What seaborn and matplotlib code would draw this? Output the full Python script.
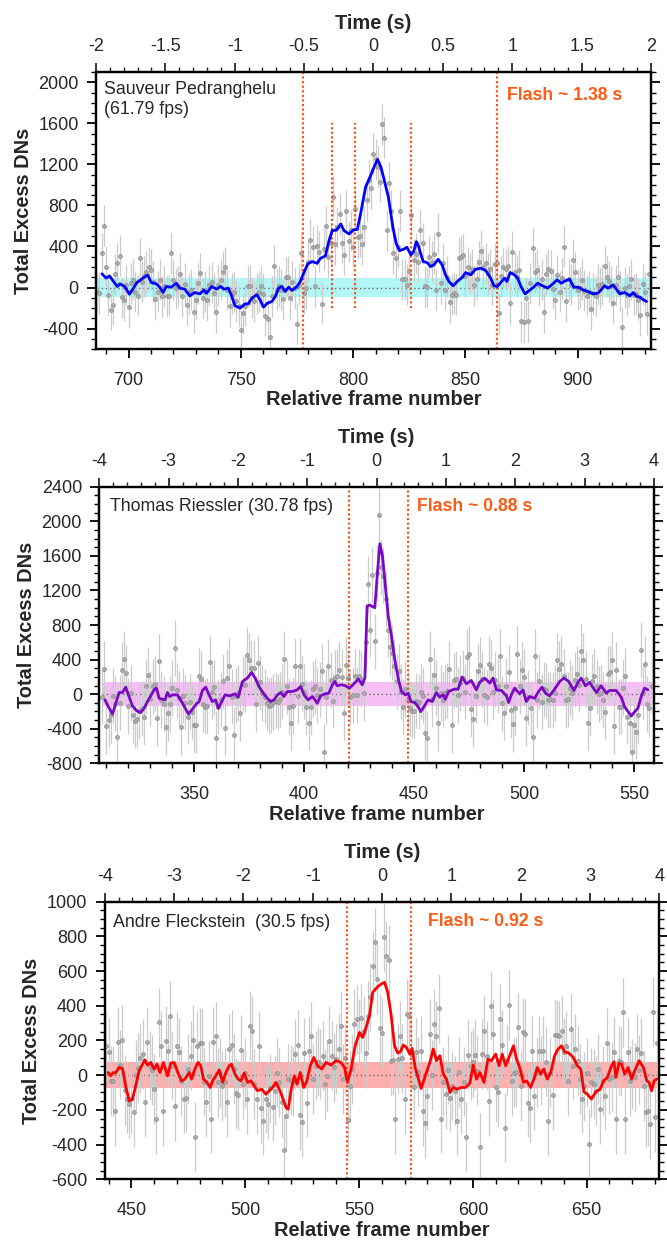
"""Three-panel flash light curves: total excess DNs vs frame number."""

import matplotlib

matplotlib.use("Agg")
import matplotlib.pyplot as plt  # noqa: E402
import numpy as np  # noqa: E402
import seaborn as sns  # noqa: E402
from matplotlib.ticker import MultipleLocator  # noqa: E402

# ---------------------------------------------------------------- panel 1
p1_name = "Sauveur Pedranghelu\n(61.79 fps)"
p1_flash = "Flash ~ 1.38 s"
p1_first_frame = 686
p1_points = [
    -40, -55, 334, 600, 204, -71, -217, -168, 130, 236,
    308, -94, -126, 20, -191, 40, 75, -39, -81, 285,
    58, 110, 155, 198, 172, 58, -113, -39, 75, -87,
    10, -87, -81, 334, 75, -6, 10, 133, -87, 36,
    -168, -55, -23, -243, -120, 40, 139, -104, -39, -126,
    20, 49, -55, -243, 23, 75, 155, 198, -23, -185,
    -60, -39, -136, -185, -418, -250, -178, 10, 16, -100,
    -136, -62, -39, 10, -62, -275, -308, -483, -87, 210,
    -23, 10, -23, -113, 100, 107, -104, 58, -6, -353,
    26, 340, -55, -6, 250, 463, 399, 10, 405, 350,
    -159, 373, 595, 300, 431, 885, 420, 587, 716, 438,
    318, 748, 450, 560, 392, 761, 489, 502, 420, 593,
    850, 1046, 965, 1306, 1250, 1176, 1030, 1590, 1460, 560,
    1020, 750, 334, 290, 392, 750, 80, 82, 27, 160,
    705, 268, 327, 250, 560, 430, 10, 3, 300, 253,
    330, -23, 525, 40, 237, -20, 107, -146, -70, -55,
    -71, 285, 302, 318, 110, 199, 140, 180, 20, 82,
    250, 360, 200, 237, 140, 178, 27, 230, 237, -253,
    110, 199, 180, 205, -152, 350, 150, 107, 170, -328,
    -340, -100, -328, 40, 382, 150, 172, 20, 80, -240,
    130, 178, 165, -10, -120, 120, -40, 90, 398, -136,
    80, 27, 270, 150, -23, 0, 75, -30, -80, -40,
    -214, -55, -80, 27, -10, 30, 205, 107, 60, 10,
    -152, 20, 107, -40, -386, 0, -71, 10, 82, -71,
    -60, -120, -272, 30, -45, -262, 133,
]
p1_err = 200
p1_line_frames = [
    688.2, 690, 691.5, 693, 695, 696.2, 698.2, 700.4, 702.2, 703.7,
    705, 706.4, 707.9, 708.6, 710.1, 712.4, 713.9, 715.4, 716.8, 719,
    721.3, 722.8, 725, 727.3, 729.5, 731.8, 733.6, 734.8, 737, 739.2,
    741, 742.5, 744.5, 746, 747.4, 749.7, 751.9, 753.4, 754.9, 757.1,
    758.6, 760.1, 761.9, 763.9, 765.4, 766.8, 768.3, 769.8, 771.3, 772.8,
    775, 776.5, 778, 779.8, 781.8, 784, 785.5, 787.7, 789.2, 790.7,
    792.7, 794.5, 796, 798.2, 800.1, 801.9, 803.4, 805.6, 807.6, 809.4,
    810.9, 812.4, 813.9, 815.7, 817.7, 819.2, 820.7, 822.5, 824, 825.8,
    827, 828.2, 829.2, 831.2, 833, 834.5, 836, 837.9, 839.7, 841.2,
    842.7, 844.6, 846.4, 848.7, 850.1, 852.4, 854.6, 856.9, 859.1, 861.3,
    862.8, 864.3, 866.1, 867.6, 868.5, 870, 871.8, 873.3, 874.8, 876.6,
    878.5, 880.4, 882.2, 884.5, 886.7, 889, 890.9, 892.7, 894.9, 896.4,
    898.4, 900.4, 902.4, 904.6, 906.9, 909.1, 912.1, 913.6, 915.8, 918.8,
    921, 923.3, 924.8, 926.3, 927.8, 929.3, 930.7,
]
p1_line_vals = [
    133, 91, 113, 68, 10, 36, 10, -65, -6, 49,
    68, 91, 113, 120, 49, 36, 3, -49, 10, 3,
    42, -6, -16, -81, -49, -62, -23, -55, 10, -16,
    10, -16, -6, -87, -178, -201, -159, -159, -104, -71,
    -120, -191, -152, -136, -87, -6, 10, -39, 3, -29,
    10, 58, 139, 230, 253, 236, 285, 308, 447, 554,
    560, 619, 554, 522, 560, 567, 723, 981, 1079, 1176,
    1247, 1176, 1046, 884, 592, 430, 359, 373, 392, 318,
    350, 447, 399, 253, 243, 204, 220, 275, 220, 123,
    58, 16, 58, 100, 146, 123, 178, 188, 165, 91,
    16, 10, 58, 91, 58, 146, 123, 91, 10, -62,
    -29, 3, 42, 16, -6, 36, 75, 42, 68, 81,
    3, 3, -23, -39, -62, -55, 16, -6, 26, -62,
    -49, -81, -49, -87, -94, -120, -136,
]
p1_flash_lines = [777.6, 864.2]
p1_sub_lines = [790.7, 800.7, 825.8]
p1_sub_span = [-200, 1600]
p1_band = 95

# ---------------------------------------------------------------- panel 2
p2_name = "Thomas Riessler (30.78 fps)"
p2_flash = "Flash ~ 0.88 s"
p2_first_frame = 308
p2_points = [
    -27, 291, -369, -299, -241, -19, -110, -493, -97, 283,
    407, 244, -136, 12, -241, -307, -291, -200, -163, -268,
    89, 225, -50, 89, 120, -279, 380, -66, -110, -384,
    -221, -113, 70, 535, 43, -47, -384, -19, -97, -260,
    -85, -202, -357, -357, 213, 175, -113, -144, -136, 369,
    31, 81, -512, -144, -58, 147, -396, 186, 330, -27,
    -473, -19, 12, -221, 120, 109, 458, 392, 303, 303,
    -113, 361, 136, 12, -27, -105, -136, -124, -90, -74,
    -85, -58, 31, 407, 89, -144, -330, -136, 330, -19,
    330, 120, 31, -151, -330, -151, 60, 89, -8, 58,
    264, -667, -27, 322, 167, -74, 186, 206, 283, 198,
    -213, 341, 186, -27, -8, 206, -8, 206, 175, 12,
    600, 1273, 748, 1377, 613, 1400, 2076, 1467, 1370, 1100,
    748, 547, 480, 322, 150, 264, 31, -144, 60, -66,
    -163, -190, -190, -74, -85, 30, -19, -446, -512, 407,
    -58, 225, 70, -338, 12, -66, 19, 40, 291, -357,
    159, 175, -8, 128, 186, 31, 430, 470, -175, -291,
    -19, 264, 341, 175, -8, -35, 353, 303, 31, 167,
    100, 438, -105, -213, 97, 252, -183, -345, -163, 470,
    89, 283, 198, -279, -35, -163, -493, 438, -66, 147,
    -85, 58, 43, -66, -58, -66, 12, 392, 291, 353,
    206, -66, -58, 70, 19, 167, 237, 110, 497, 392,
    175, -330, -163, 147, 206, 89, 4, 19, -66, -202,
    237, 252, 400, -369, 283, -144, -144, 70, 214, -260,
    -338, -667, -357, -435, -241, 516, 19, 353, -113, -163,
    89,
]
p2_err = 320
p2_line_frames = [
    309.4, 310.9, 312.8, 314.3, 315.8, 317.3, 318.8, 320.3, 321.9, 323.7,
    325.6, 327.2, 328.7, 330.2, 331.7, 332.8, 334, 335.5, 336.7, 337.8,
    338.8, 340, 342.3, 343.8, 345.3, 347.3, 349.1, 350.9, 352.2, 353.7,
    355.2, 356.7, 358.2, 359.7, 360.9, 362.5, 364, 366.1, 368.5, 370,
    371.9, 374.1, 376.1, 377.9, 379.4, 381.2, 383.2, 384.7, 386.2, 387.8,
    389.3, 390.8, 392.3, 394.6, 396.8, 398.4, 399.9, 401.8, 403.7, 404.9,
    405.9, 407.5, 409.4, 411.2, 412.8, 414, 415, 417, 418.8, 420.6,
    422.6, 424.6, 426.4, 427.6, 428.6, 429.8, 432.1, 433.3, 434.4, 435.6,
    436.6, 438.2, 439.7, 441.2, 442.7, 444.2, 446, 447.3, 448.5, 450.3,
    451.8, 453, 454.5, 456.3, 458.2, 460.1, 461.6, 463.2, 464.2, 465.7,
    468.2, 470, 471.8, 473.8, 476, 478.3, 479.8, 482.1, 484.4, 485.9,
    487.4, 489.7, 492, 493, 494.2, 495.7, 498, 499.5, 501, 502.6,
    504.8, 506.6, 508.2, 509.7, 511.6, 513.9, 516.2, 518.2, 520.3, 522.7,
    524.5, 526, 527.9, 529.8, 532.9, 535.1, 537.4, 538.9, 541.9, 544.2,
    545.7, 547.3, 548.8, 550.3, 551.8, 553.3, 554.8, 556.3,
]
p2_line_vals = [
    -66, -144, -229, -105, 19, 19, 81, -27, -136, -190,
    -213, -163, -85, -19, 50, 70, -47, -58, -66, 19,
    -27, -8, -8, -66, -136, -229, -175, -113, -85, 43,
    81, -8, -85, -66, -163, -85, -8, -19, 4, -35,
    147, 186, 252, 175, 89, 19, -47, -85, -66, -8,
    19, -27, 31, 31, 50, 89, -8, -66, -27, -66,
    -105, -19, 4, 12, 109, 147, 97, 109, 97, 70,
    120, 175, 109, 186, 1020, 1030, 1000, 1400, 1740, 1600,
    1331, 904, 671, 400, 190, 31, -8, 12, -85, -97,
    -144, -202, -144, -66, -85, 19, -35, -8, -58, 31,
    58, 58, 198, 120, 159, 50, 136, 186, 128, 186,
    50, 43, -19, -97, -8, 70, 4, 50, -85, -27,
    -47, 31, 81, 12, -19, 58, 147, 186, 147, 43,
    136, 186, 97, 136, 19, 97, 12, 43, 43, -35,
    -144, -202, -252, -202, -163, -27, 70, 50,
]
p2_flash_lines = [420.5, 447.4]
p2_band = 140

# ---------------------------------------------------------------- panel 3
p3_name = "Andre Fleckstein  (30.5 fps)"
p3_flash = "Flash ~ 0.92 s"
p3_first_frame = 439
p3_points = [
    169, 131, -33, -33, -206, 192, 60, 202, -85, -135,
    -165, -135, -215, 0, 40, 96, 121, -154, 192, 54,
    30, -81, -254, 304, 169, -206, 198, 140, 342, 54,
    -177, 169, 131, -33, -135, -129, 35, 112, 204, -354,
    169, 185, 185, -38, -154, -4, -250, 192, 223, -42,
    12, -62, -42, -154, 150, 173, 35, -104, -115, 146,
    -52, 15, -138, 285, 256, -52, -138, 169, -192, -263,
    -135, -167, -77, -181, -90, 15, -42, -154, -431, -238,
    -23, -27, -38, 121, 173, -231, -269, 127, -158, 140,
    223, -23, 54, 77, 63, 112, -52, -4, 198, 112,
    44, 92, 150, 281, -23, 96, -258, -62, 35, 294,
    323, 237, 327, 256, 127, 342, 448, 631, 766, 554,
    270, 242, 795, 689, 665, 83, 88, -254, 92, 227,
    96, -138, 352, 342, 121, -71, 131, 20, 140, -206,
    -277, -119, 237, 0, 294, 227, 385, -250, -38, -110,
    31, -129, -60, -90, -263, 19, -138, -38, -354, 115,
    54, 73, 115, 25, -417, 121, 256, 112, -148, 400,
    237, -71, -100, 323, 173, -302, 88, 404, -33, 15,
    19, 275, -62, 246, 237, -158, -187, 140, -119, 15,
    140, 25, 140, 77, -263, 15, -115, 231, 231, 227,
    256, 131, 169, -33, 265, 54, 150, 83, -23, -135,
    -65, 15, -398, -42, -52, -90, 35, -196, -33, -119,
    185, -23, -8, 135, -254, 83, 77, 362, -254, 131,
    -33, 6, -13, 150, 31, 127, -62, -215, -206, -283,
    365, -244, 185,
]
p3_err = 200
p3_line_frames = [
    439.8, 440.9, 442.1, 443.1, 444.6, 446.1, 447.5, 449, 450.5, 451.9,
    453.4, 454.9, 455.9, 457.1, 458.5, 460, 461.2, 462.6, 464.1, 465.9,
    467.3, 468.8, 470.3, 472, 473.5, 475.4, 476.4, 477.9, 479.3, 480.5,
    481.7, 483.2, 484.6, 485.7, 487.1, 488.6, 490.1, 491.5, 493, 494,
    495.5, 496.9, 498.1, 499.6, 501, 502.5, 504, 505.4, 507.2, 509.1,
    510.6, 512, 513.5, 515, 516.4, 517.9, 518.9, 520.1, 521.6, 522.8,
    524.2, 525.7, 527.1, 528.6, 530.1, 531.8, 533.6, 535.5, 537.7, 539.9,
    542.1, 543.6, 545, 546.5, 548.3, 550.2, 551.6, 553.1, 554.6, 556,
    557.9, 559.7, 561.2, 562.6, 564.1, 565.6, 567, 568.2, 569.4, 570.8,
    572.3, 573.3, 574.8, 576.3, 577.3, 579.2, 581.1, 582.6, 584, 585.5,
    587, 588.4, 589.9, 591.4, 593.1, 594.9, 596.8, 598.7, 600.2, 601.6,
    603.1, 604.9, 606.6, 608.1, 610, 611.5, 612.9, 614.4, 615.9, 617.8,
    619.2, 620.7, 622.2, 623.6, 625.4, 626.8, 628.3, 629.8, 631.2, 632.7,
    634.2, 635.9, 637.4, 638.9, 640.3, 642.2, 644.1, 645.9, 647.4, 648.8,
    650.3, 652.1, 654, 655.9, 657.4, 659.1, 660.9, 662, 662.8, 664.2,
    665.3, 666.7, 668.2, 669.7, 671.1, 673, 674.9, 676.4, 677.4, 678.5,
    679.6, 680.8,
]
p3_line_vals = [
    15, -4, 15, 12, 44, 38, -62, -148, -138, -62,
    25, 63, 88, 58, 73, 35, 63, 15, 73, -4,
    69, 73, 19, -33, -23, 15, -23, 35, 73, 54,
    -23, -42, -71, -33, -4, 31, -42, 15, 54, 63,
    6, -23, -33, 12, -42, -33, -62, -90, -81, -110,
    -90, -71, -42, -81, -129, -187, -196, -90, -4, -52,
    15, -71, -33, 54, 102, 54, 35, 73, 58, 83,
    73, 44, -42, 35, 169, 246, 217, 275, 342, 477,
    506, 525, 535, 477, 346, 169, 127, 135, 173, 160,
    121, 154, 35, -33, -77, 0, 73, 150, 83, 112,
    6, -23, -100, -71, -81, -71, -71, -46, 58, -23,
    15, -42, 92, 83, 121, 54, 121, 54, 102, 169,
    92, 38, -42, -33, -71, -23, 44, 6, 35, -23,
    15, 112, 150, 169, 135, 127, 102, 54, 35, -96,
    -110, -138, -96, -81, -33, -13, 54, 77, -13, 69,
    63, 6, 44, -23, 25, 83, 44, -33, -42, -90,
    -33, -23,
]
p3_flash_lines = [544.9, 572.7]
p3_band = 75


def style_axis(ax, ax_top, xlim, ylim, x_minor, y_major, y_minor, t_max, t_major, t_minor):
    ax.set_xlim(*xlim)
    ax.set_ylim(*ylim)
    ax.xaxis.set_major_locator(MultipleLocator(50))
    ax.xaxis.set_minor_locator(MultipleLocator(x_minor))
    ax.yaxis.set_major_locator(MultipleLocator(y_major))
    ax.yaxis.set_minor_locator(MultipleLocator(y_minor))
    ax.tick_params(axis="both", which="both", direction="out", right=True,
                   labelright=False, labelsize=13, color="black")
    ax.tick_params(axis="x", pad=10)
    ax.tick_params(axis="y", pad=6)
    ax.tick_params(which="major", length=6.5, width=1.3)
    ax.tick_params(which="minor", length=3.5, width=1.0)
    ax.set_xlabel("Relative frame number", fontsize=14.4, fontweight="bold", labelpad=1)
    ax.set_ylabel("Total Excess DNs", fontsize=14.4, fontweight="bold", labelpad=4)

    ax_top.set_xlim(-t_max, t_max)
    ax_top.xaxis.set_major_locator(MultipleLocator(t_major))
    ax_top.xaxis.set_minor_locator(MultipleLocator(t_minor))
    ax_top.tick_params(axis="x", which="both", direction="out", labelsize=13, pad=5.5)
    ax_top.tick_params(which="major", length=6.5, width=1.3)
    ax_top.tick_params(which="minor", length=3.5, width=1.0)
    ax_top.set_xlabel("Time (s)", fontsize=14.4, fontweight="bold", labelpad=7)
    ax_top.xaxis.set_major_formatter(
        matplotlib.ticker.FuncFormatter(lambda v, _: "0" if v == 0 else f"{v:g}")
    )
    for a in (ax, ax_top):
        for sp in a.spines.values():
            sp.set_linewidth(1.6)
            sp.set_color("black")


def draw_panel(ax, first_frame, points, err, line_frames, line_vals, band,
               line_color, band_color, flash_lines):
    frames = np.arange(first_frame, first_frame + len(points))
    vals = np.asarray(points, dtype=float)
    f0, f1 = frames[0], frames[-1]
    ax.fill_between([f0, f1], -band, band, color=band_color, lw=0, zorder=1)
    ax.plot([f0, f1], [0, 0], ls=(0, (1, 2)), color="#666666", lw=1.0, zorder=2)
    ax.vlines(frames, vals - err, vals + err, color="#cbcbcb", lw=0.9, zorder=3)
    sns.scatterplot(x=frames, y=vals, ax=ax, s=8, color="#ababab",
                    edgecolor="#8e8e8e", linewidth=0.5, zorder=4, legend=False)
    for fx in flash_lines:
        ax.axvline(fx, color="#ff4a0a", ls=(0, (1, 1.2)), lw=1.5, zorder=5)
    sns.lineplot(x=line_frames, y=line_vals, ax=ax, color=line_color, lw=2.0,
                 sort=False, estimator=None, zorder=6)


sns.set_style("ticks")
plt.rcParams["font.family"] = ["Liberation Sans", "DejaVu Sans"]
plt.rcParams["axes.unicode_minus"] = False

fig = plt.figure(figsize=(6.67, 12.4), dpi=100)
flash_color = "#ff5a14"

# panel 1
ax1 = fig.add_axes([0.1439, 0.7185, 0.8321, 0.2234])
ax1t = ax1.twiny()
draw_panel(ax1, p1_first_frame, p1_points, p1_err, p1_line_frames, p1_line_vals,
           p1_band, "#0000ff", "#b2f6f6", p1_flash_lines)
ax1.vlines(p1_sub_lines, p1_sub_span[0], p1_sub_span[1], color="#ff4a0a",
           linestyles=(0, (1, 1.2)), lw=1.5, zorder=5)
style_axis(ax1, ax1t, (685.5, 932.7), (-600, 2100), 10, 400, 100, 2, 0.5, 0.1)
ax1.text(0.015, 0.968, p1_name, transform=ax1.transAxes, fontsize=12.8,
         va="top", ha="left", linespacing=1.25)
ax1.text(0.74, 0.914, p1_flash, transform=ax1.transAxes, fontsize=12.7,
         fontweight="bold", color=flash_color, va="center", ha="left")

# panel 2
ax2 = fig.add_axes([0.1489, 0.3844, 0.8316, 0.2231])
ax2t = ax2.twiny()
draw_panel(ax2, p2_first_frame, p2_points, p2_err, p2_line_frames, p2_line_vals,
           p2_band, "#7a08c4", "#f6c0f6", p2_flash_lines)
style_axis(ax2, ax2t, (306.8, 559.1), (-800, 2400), 10, 400, 100, 4, 1, 0.2)
ax2.text(0.019, 0.928, p2_name, transform=ax2.transAxes, fontsize=12.8,
         va="center", ha="left")
ax2.text(0.573, 0.928, p2_flash, transform=ax2.transAxes, fontsize=12.7,
         fontweight="bold", color=flash_color, va="center", ha="left")

# panel 3
ax3 = fig.add_axes([0.157, 0.049, 0.8315, 0.2239])
ax3t = ax3.twiny()
draw_panel(ax3, p3_first_frame, p3_points, p3_err, p3_line_frames, p3_line_vals,
           p3_band, "#ff0000", "#ffaeae", p3_flash_lines)
style_axis(ax3, ax3t, (438.3, 681.9), (-600, 1000), 10, 200, 50, 4, 1, 0.2)
ax3.text(0.015, 0.924, p3_name, transform=ax3.transAxes, fontsize=12.8,
         va="center", ha="left")
ax3.text(0.583, 0.928, p3_flash, transform=ax3.transAxes, fontsize=12.7,
         fontweight="bold", color=flash_color, va="center", ha="left")

fig.savefig("out.png", dpi=100)
